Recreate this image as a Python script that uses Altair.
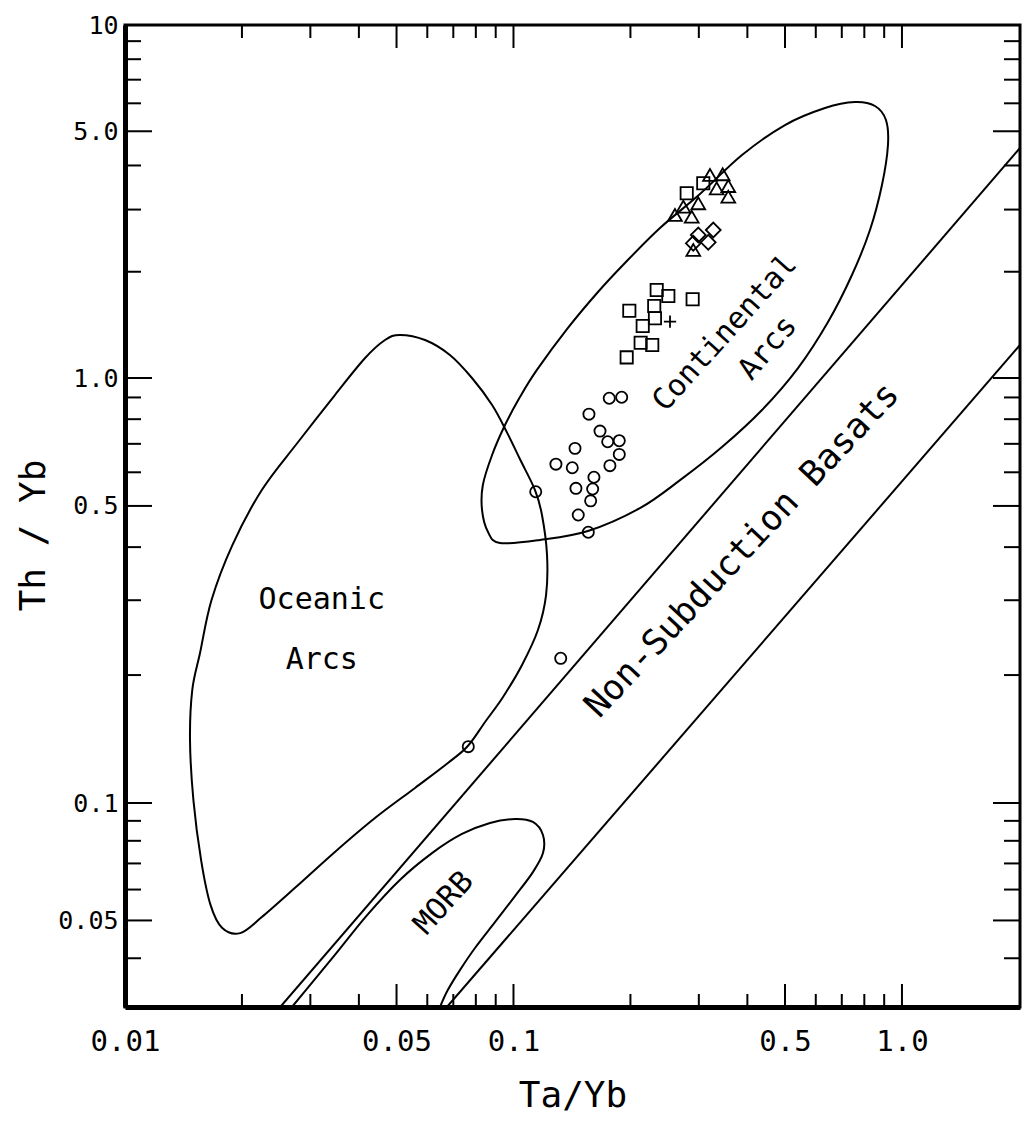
import altair as alt
import pandas as pd

# ---------------- axis values ----------------
x_label_values = [0.01, 0.05, 0.1, 0.5, 1.0]
y_label_values = [0.05, 0.1, 0.5, 1.0, 5.0, 10.0]
x_major_ticks = [0.05, 0.1, 0.5, 1.0]
x_minor_ticks = [0.02, 0.03, 0.04, 0.06, 0.07, 0.08, 0.09, 0.2, 0.3, 0.4, 0.6, 0.7, 0.8, 0.9]
y_major_ticks = [0.05, 0.1, 0.5, 1.0, 5.0]
y_minor_ticks = [0.04, 0.06, 0.07, 0.08, 0.09, 0.2, 0.3, 0.4, 0.6, 0.7, 0.8, 0.9, 2, 3, 4, 6, 7, 8, 9]

# ---------------- field outlines (Ta/Yb, Th/Yb) ----------------
continental_ta = [0.0923, 0.0860, 0.0830, 0.0834, 0.0881, 0.0951, 0.1039, 0.1149, 0.1381, 0.1650,
                  0.1936, 0.2383, 0.3020, 0.3875, 0.4998, 0.6337, 0.7568, 0.8522, 0.9095, 0.9204,
                  0.8882, 0.8273, 0.7435, 0.6451, 0.5400, 0.4362, 0.3441, 0.2684, 0.2116, 0.1555, 0.1170]
continental_th = [0.409, 0.434, 0.489, 0.560, 0.659, 0.775, 0.902, 1.054, 1.386, 1.752,
                  2.117, 2.660, 3.320, 4.282, 5.208, 5.820, 6.052, 5.896, 5.383, 4.573,
                  3.522, 2.626, 1.958, 1.441, 1.067, 0.841, 0.688, 0.575, 0.494, 0.4365, 0.416]

oceanic_ta = [0.0510, 0.0592, 0.0686, 0.0782, 0.0881, 0.0962, 0.1041, 0.1136, 0.1184, 0.1220,
              0.1213, 0.1156, 0.1052, 0.0940, 0.0845, 0.0763, 0.0678, 0.0558, 0.0440, 0.0347,
              0.0274, 0.0225, 0.0198, 0.0178, 0.0166, 0.0157, 0.0150, 0.0147, 0.0149, 0.0156,
              0.0167, 0.0189, 0.0225, 0.0279, 0.0347, 0.0415, 0.0467]
oceanic_th = [1.324, 1.281, 1.162, 1.000, 0.864, 0.745, 0.642, 0.545, 0.476, 0.3834,
              0.3086, 0.2553, 0.2113, 0.1776, 0.1551, 0.1362, 0.1242, 0.1085, 0.0915, 0.0749,
              0.0606, 0.0510, 0.0464, 0.0478, 0.0548, 0.0714, 0.1016, 0.1407, 0.1845, 0.2254,
              0.3003, 0.4045, 0.545, 0.707, 0.912, 1.139, 1.281]

morb_ta = [0.0269, 0.0299, 0.0347, 0.0420, 0.0510, 0.0617, 0.0737, 0.0870, 0.1009, 0.1122,
           0.1191, 0.1191, 0.1122, 0.1009, 0.0896, 0.0796, 0.0728, 0.0678, 0.0647]
morb_th = [0.0300, 0.0341, 0.0408, 0.0516, 0.0635, 0.0744, 0.0833, 0.0889, 0.0910, 0.0894,
           0.0828, 0.0744, 0.0665, 0.0577, 0.0495, 0.0425, 0.0373, 0.0332, 0.0300]

ns_upper_ta = [0.0251, 2.013]
ns_upper_th = [0.03, 4.484]
ns_lower_ta = [0.0674, 2.013]
ns_lower_th = [0.03, 1.240]

# ---------------- samples ----------------
circle_ta = [0.1764, 0.1899, 0.1564, 0.1670, 0.1748, 0.1872, 0.1872, 0.1440, 0.1286, 0.1417,
             0.1771, 0.1611, 0.1599, 0.1448, 0.1580, 0.1468, 0.1558, 0.1141, 0.1323, 0.0765]
circle_th = [0.896, 0.901, 0.822, 0.750, 0.708, 0.712, 0.661, 0.683, 0.627, 0.615,
             0.622, 0.584, 0.548, 0.550, 0.514, 0.476, 0.4335, 0.540, 0.219, 0.1357]
square_ta = [0.2337, 0.2504, 0.2892, 0.1987, 0.2303, 0.2313, 0.2151, 0.2125, 0.2276, 0.1956, 0.3080, 0.2792]
square_th = [1.775, 1.708, 1.671, 1.551, 1.600, 1.476, 1.404, 1.259, 1.240, 1.144, 3.561, 3.336]
triangle_ta = [0.3205, 0.3456, 0.3334, 0.3572, 0.3572, 0.2990, 0.2737, 0.2604, 0.2876, 0.2903]
triangle_th = [3.759, 3.777, 3.446, 3.498, 3.263, 3.126, 3.057, 2.896, 2.864, 2.305]
diamond_ta = [0.3268, 0.2990, 0.3172, 0.2903]
diamond_th = [2.626, 2.542, 2.423, 2.408]
plus_ta = [0.2529]
plus_th = [1.444]

# ---------------- field labels ----------------
label_text = ["Continental", "Arcs", "Non-Subduction Basats", "Oceanic", "Arcs", "MORB"]
label_ta = [0.3503, 0.4518, 0.3875, 0.0321, 0.0321, 0.0662]
label_th = [1.341, 1.216, 0.3937, 0.3003, 0.217, 0.0554]
label_angle = [312, 310, 313, 0, 0, 312]
label_size = [30, 30, 35, 30, 30, 30]

# ---------------- scales & axes ----------------
FONT = "DejaVu Sans Mono"
W, H = 895, 982
xs = alt.Scale(type="log", domain=[0.01, 2.013], nice=False)
ys = alt.Scale(type="log", domain=[0.03, 0.1, 1.0, 10.0], range=[H, 778, 353, 0], nice=False)

XA = alt.Axis(
    values=x_label_values,
    labelExpr="datum.value >= 1 ? format(datum.value, '.1f') : format(datum.value, '~g')",
    ticks=False, grid=False, domainColor="black", domainWidth=5,
    labelFont=FONT, labelFontSize=29, labelColor="black", labelPadding=20,
    labelFlush=False, labelOverlap=False, labelAlign="center",
    title="Ta/Yb", titleFont=FONT, titleFontSize=36, titleFontWeight="normal",
    titleColor="black", titleY=88, titleBaseline="middle",
)
YA = alt.Axis(
    values=y_label_values,
    labelExpr="datum.value >= 10 ? '10' : datum.value >= 1 ? format(datum.value, '.1f') : format(datum.value, '~g')",
    ticks=False, grid=False, domainColor="black", domainWidth=5,
    labelFont=FONT, labelFontSize=25, labelColor="black", labelPadding=7,
    labelFlush=False, labelOverlap=False,
    title="Th / Yb", titleFont=FONT, titleFontSize=36, titleFontWeight="normal",
    titleColor="black", titleX=-92, titleY=510, titleAngle=270,
    titleBaseline="middle", titleAlign="center",
)


def xy_df(xv, yv):
    return pd.DataFrame({"ta": xv, "th": yv, "i": list(range(len(xv)))})


def X(field):
    return alt.X(field, scale=xs, axis=XA)


def Y(field):
    return alt.Y(field, scale=ys, axis=YA)


def outline(xv, yv, interp):
    return alt.Chart(xy_df(xv, yv)).mark_line(
        color="black", strokeWidth=2, interpolate=interp, clip=True
    ).encode(x=X("ta:Q"), y=Y("th:Q"), order="i:Q")


def points(xv, yv, shape, size):
    return alt.Chart(xy_df(xv, yv)).mark_point(
        shape=shape, size=size, filled=False, color="black", strokeWidth=1.8, opacity=1
    ).encode(x=X("ta:Q"), y=Y("th:Q"))


def xticks(vals, y0, y1):
    return alt.Chart(pd.DataFrame({"ta": vals})).mark_rule(color="black", strokeWidth=2).encode(
        x=X("ta:Q"), y=alt.value(y0), y2=alt.value(y1)
    )


def yticks(vals, x0, x1):
    return alt.Chart(pd.DataFrame({"th": vals})).mark_rule(color="black", strokeWidth=2).encode(
        y=Y("th:Q"), x=alt.value(x0), x2=alt.value(x1)
    )


def label(k):
    df = pd.DataFrame({"ta": [label_ta[k]], "th": [label_th[k]], "t": [label_text[k]]})
    return alt.Chart(df).mark_text(
        font=FONT, fontSize=label_size[k], angle=label_angle[k], color="black",
        align="center", baseline="middle"
    ).encode(x=X("ta:Q"), y=Y("th:Q"), text="t:N")


layers = [
    points(circle_ta, circle_th, "circle", 125),
    outline(continental_ta, continental_th, "cardinal-closed"),
    outline(oceanic_ta, oceanic_th, "cardinal-closed"),
    outline(morb_ta, morb_th, "cardinal"),
    outline(ns_upper_ta, ns_upper_th, "linear"),
    outline(ns_lower_ta, ns_lower_th, "linear"),
    points(square_ta, square_th, "square", 150),
    points(triangle_ta, triangle_th, "triangle-up", 190),
    points(diamond_ta, diamond_th, "diamond", 220),
    points(plus_ta, plus_th, "M-1,0L1,0M0,-1L0,1", 150),
    xticks(x_major_ticks, H, H - 23),
    xticks(x_minor_ticks, H, H - 13),
    xticks(x_major_ticks, 0, 23),
    xticks(x_minor_ticks, 0, 13),
    yticks(y_major_ticks, 0, 27),
    yticks(y_minor_ticks, 0, 16),
    yticks(y_major_ticks, W, W - 27),
    yticks(y_minor_ticks, W, W - 16),
] + [label(k) for k in range(len(label_text))]

chart = alt.layer(*layers).properties(
    width=W,
    height=H,
    padding={"left": 125, "top": 25, "right": 2, "bottom": 115},
    autosize=alt.AutoSizeParams(type="none"),
    background="white",
).configure_view(stroke="black", strokeWidth=3)

chart.save("out.html", embed_options={"renderer": "svg", "actions": False})
